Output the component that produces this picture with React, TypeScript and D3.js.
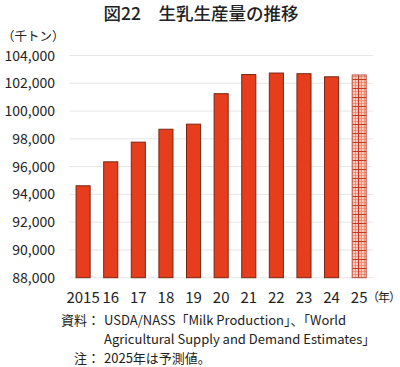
import React from "react";
import * as d3 from "d3";

const years = ["2015", "16", "17", "18", "19", "20", "21", "22", "23", "24", "25"];
const production = [94619, 96343, 97761, 98690, 99056, 101251, 102629, 102737, 102688, 102468, 102600];
const forecastFlags = [false, false, false, false, false, false, false, false, false, false, true];
const yTicks = [88000, 90000, 92000, 94000, 96000, 98000, 100000, 102000, 104000];
const title = "図22　生乳生産量の推移";
const unitLabel = "（千トン）";
const yearUnit = "（年）";
const sourceLines = ["USDA/NASS「Milk Production」、「World", "Agricultural Supply and Demand Estimates」"];
const noteLine = "2025年は予測値。";

const W = 400;
const H = 367;
const FONT = "'Noto Sans CJK JP', 'Noto Sans', sans-serif";

export default function App() {
  const x = d3
    .scaleBand<string>()
    .domain(years)
    .range([69.3, 373])
    .paddingInner(0.49)
    .paddingOuter(0.245);
  const y = d3.scaleLinear().domain([88000, 104000]).range([277.7, 55.5]);
  const fmt = d3.format(",");

  return (
    <svg
      width={W}
      height={H}
      style={{ position: "absolute", left: 0, top: 0, display: "block", background: "#fff" }}
      fontFamily={FONT}
    >
      <defs>
        <pattern id="hatch" width="9" height="9" patternUnits="userSpaceOnUse" x={0} y={0}>
          <rect width="9" height="9" fill="#f9c9bc" />
          <path d="M0 1.5H9M0 4.5H9M1.5 0V9M4.5 0V9" stroke="#ec7a63" strokeWidth="0.7" />
          <path d="M0 7.5H9M7.5 0V9" stroke="#c8341c" strokeWidth="1" />
        </pattern>
      </defs>

      <text x={201} y={20} textAnchor="middle" fontSize={17.5} fontWeight={500} fill="#222">
        {title}
      </text>

      <text x={2} y={41} fontSize={12.5} fill="#222">
        {unitLabel}
      </text>

      {yTicks.map((t) => (
        <g key={t}>
          <line x1={69.3} x2={373} y1={y(t)} y2={y(t)} stroke="#e6e6e6" strokeWidth={1} />
          <text x={55} y={y(t)} dy="0.36em" textAnchor="end" fontSize={14} fill="#222">
            {fmt(t)}
          </text>
        </g>
      ))}

      {years.map((yr, i) => {
        const bx = x(yr) as number;
        const top = y(production[i]);
        const forecast = forecastFlags[i];
        return (
          <rect
            key={yr}
            x={bx}
            y={top}
            width={x.bandwidth()}
            height={y(88000) - top}
            fill={forecast ? "url(#hatch)" : "#e63e1c"}
            stroke={forecast ? "#b85a48" : "#7a2616"}
            strokeWidth={1}
          />
        );
      })}

      {years.map((yr) => (
        <text
          key={yr}
          x={(x(yr) as number) + x.bandwidth() / 2}
          y={303}
          textAnchor="middle"
          fontSize={15}
          fill="#222"
        >
          {yr}
        </text>
      ))}
      <text x={367} y={302} fontSize={12} fill="#222" letterSpacing={-1}>
        {yearUnit}
      </text>

      <text x={100} y={325} textAnchor="end" fontSize={13} fill="#222">
        資料：
      </text>
      {sourceLines.map((s, i) => (
        <text key={i} x={104} y={325 + i * 19} fontSize={13} fill="#222">
          {s}
        </text>
      ))}
      <text x={100} y={363} textAnchor="end" fontSize={13} fill="#222">
        注：
      </text>
      <text x={104} y={363} fontSize={13} fill="#222">
        {noteLine}
      </text>
    </svg>
  );
}
